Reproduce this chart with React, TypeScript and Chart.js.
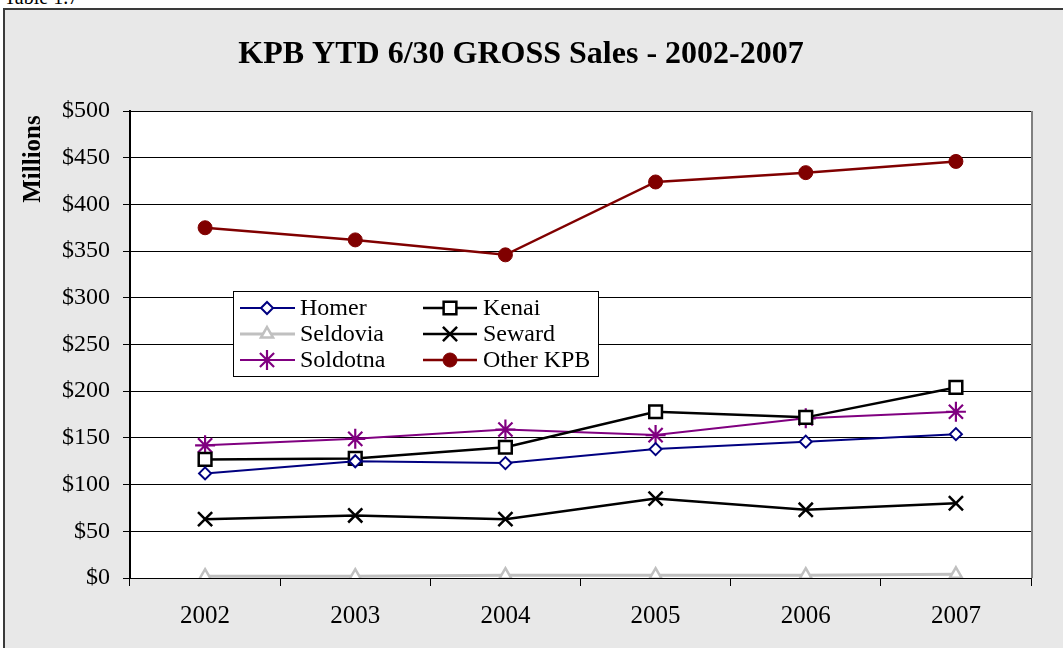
import React, { useEffect, useRef } from "react";
import { Chart, registerables } from "chart.js";
import { drawPoint } from "chart.js/helpers";

Chart.register(...registerables);

const years = ["2002", "2003", "2004", "2005", "2006", "2007"];
const homer = [112, 125, 123, 138, 146, 154];
const kenai = [127, 128, 140, 178, 172, 204];
const seldovia = [2, 2, 3, 3, 3, 4];
const seward = [63, 67, 63, 85, 73, 80];
const soldotna = [142, 149, 159, 153, 171, 178];
const otherKpb = [375, 362, 346, 424, 434, 446];
const titleText = "KPB YTD 6/30 GROSS Sales - 2002-2007";
const yAxisTitle = "Millions";

const SERIF = '"Liberation Serif", "Times New Roman", serif';

type S = {
  label: string;
  data: number[];
  color: string;
  fill: string;
  style: any;
  radius: number;
  bw: number;
  lw: number;
};

const series: S[] = [
  { label: "Homer", data: homer, color: "#000080", fill: "#ffffff", style: "rectRot", radius: 6, bw: 2, lw: 2 },
  { label: "Kenai", data: kenai, color: "#000000", fill: "#ffffff", style: "rect", radius: 9, bw: 2.5, lw: 2.5 },
  { label: "Seldovia", data: seldovia, color: "#c0c0c0", fill: "#ffffff", style: "triangle", radius: 7, bw: 2.5, lw: 3 },
  { label: "Seward", data: seward, color: "#000000", fill: "#000000", style: "crossRot", radius: 10, bw: 2.5, lw: 2.5 },
  { label: "Soldotna", data: soldotna, color: "#800080", fill: "#800080", style: "star", radius: 10, bw: 2.2, lw: 2 },
  { label: "Other KPB", data: otherKpb, color: "#800000", fill: "#800000", style: "circle", radius: 7, bw: 1, lw: 2.5 },
];

const decorPlugin = {
  id: "decor",
  beforeDraw(chart: any) {
    const { ctx, chartArea: a } = chart;
    ctx.save();
    ctx.fillStyle = "#ffffff";
    ctx.fillRect(a.left, a.top, a.right - a.left, a.bottom - a.top);
    ctx.restore();
  },
  afterDraw(chart: any) {
    const { ctx, chartArea: a } = chart;
    ctx.save();
    // right border of plot area
    ctx.strokeStyle = "#808080";
    ctx.lineWidth = 2;
    ctx.beginPath();
    ctx.moveTo(a.right + 1, a.top);
    ctx.lineTo(a.right + 1, a.bottom);
    ctx.stroke();

    // title
    ctx.fillStyle = "#000";
    ctx.font = `bold 32px ${SERIF}`;
    ctx.textAlign = "center";
    ctx.textBaseline = "alphabetic";
    ctx.fillText(titleText, 521, 63);

    // y axis title
    ctx.save();
    ctx.translate(34, 159);
    ctx.rotate(-Math.PI / 2);
    ctx.textBaseline = "middle";
    ctx.font = `bold 25px ${SERIF}`;
    ctx.fillText(yAxisTitle, 0, 0);
    ctx.restore();

    // legend
    const bx = 233, by = 291, bw = 365, bh = 85;
    ctx.fillStyle = "#ffffff";
    ctx.fillRect(bx, by, bw, bh);
    ctx.strokeStyle = "#000";
    ctx.lineWidth = 1;
    ctx.strokeRect(bx + 0.5, by + 0.5, bw, bh);
    const cols = [
      { l0: 240, l1: 295, m: 267, t: 300 },
      { l0: 423, l1: 477, m: 450, t: 483 },
    ];
    const rows = [308, 334, 360];
    ctx.font = `24px ${SERIF}`;
    ctx.textAlign = "left";
    ctx.textBaseline = "middle";
    series.forEach((s, i) => {
      const c = cols[i % 2];
      const y = rows[Math.floor(i / 2)];
      ctx.strokeStyle = s.color;
      ctx.lineWidth = s.lw;
      ctx.beginPath();
      ctx.moveTo(c.l0, y);
      ctx.lineTo(c.l1, y);
      ctx.stroke();
      ctx.fillStyle = s.fill;
      ctx.strokeStyle = s.color;
      ctx.lineWidth = s.bw;
      drawPoint(ctx, { pointStyle: s.style, radius: s.radius, borderWidth: s.bw, rotation: 0 } as any, c.m, y);
      ctx.fillStyle = "#000";
      ctx.fillText(s.label, c.t, y + 1);
    });
    ctx.restore();
  },
};

export default function App() {
  const ref = useRef<HTMLCanvasElement>(null);
  useEffect(() => {
    if (!ref.current) return;
    const chart = new Chart(ref.current, {
      type: "line",
      data: {
        labels: years,
        datasets: series.map((s) => ({
          label: s.label,
          data: s.data,
          borderColor: s.color,
          backgroundColor: s.fill,
          borderWidth: s.lw,
          pointStyle: s.style,
          pointRadius: s.radius,
          pointBorderWidth: s.bw,
          pointBorderColor: s.color,
          pointBackgroundColor: s.fill,
          tension: 0,
          fill: false,
        })),
      },
      options: {
        animation: false,
        responsive: false,
        maintainAspectRatio: false,
        layout: { padding: { top: 111, right: 32, left: 0, bottom: 0 } },
        plugins: {
          legend: { display: false },
          title: { display: false },
          tooltip: { enabled: false },
        },
        scales: {
          x: {
            type: "category",
            offset: true,
            grid: {
              display: true,
              offset: true,
              drawOnChartArea: false,
              drawTicks: true,
              tickLength: 8,
              color: "#000",
            },
            border: { display: true, color: "#000", width: 1 },
            ticks: { color: "#000", font: { family: SERIF, size: 25 }, padding: 15 },
            afterFit: (scale: any) => {
              scale.height = 70;
            },
          },
          y: {
            min: 0,
            max: 500,
            ticks: {
              stepSize: 50,
              color: "#000",
              font: { family: SERIF, size: 24 },
              padding: 13,
              callback: (v: any) => "$" + v,
            },
            grid: { color: "#000", lineWidth: 1, tickLength: 7, drawTicks: true },
            border: { display: true, color: "#000", width: 2 },
            afterFit: (scale: any) => {
              scale.width = 130;
            },
          },
        },
      },
      plugins: [decorPlugin],
    });
    return () => chart.destroy();
  }, []);

  return (
    <div style={{ position: "fixed", left: 0, top: 0, width: 1063, height: 648, overflow: "hidden", background: "#fff" }}>
      <div
        style={{
          position: "absolute",
          left: 4,
          top: -13,
          fontFamily: SERIF,
          fontSize: 20,
          lineHeight: "20px",
          color: "#000",
          whiteSpace: "nowrap",
        }}
      >
        Table 1.7
      </div>
      <div
        style={{
          position: "absolute",
          left: 3,
          top: 8,
          width: 1200,
          height: 800,
          border: "2px solid #3a3a3a",
          background: "#e8e8e8",
        }}
      />
      <canvas ref={ref} width={1063} height={648} style={{ position: "absolute", left: 0, top: 0, width: 1063, height: 648 }} />
    </div>
  );
}
